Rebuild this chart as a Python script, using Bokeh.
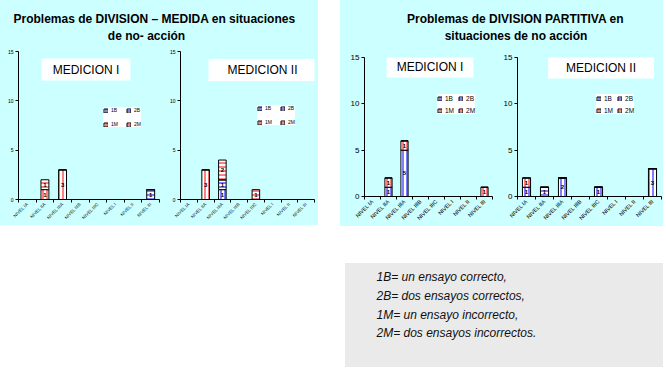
import math
from bokeh.plotting import figure
from bokeh.layouts import row, column
from bokeh.models import (ColumnDataSource, Label, Legend, LegendItem,
                          FixedTicker, Range1d, Spacer)
from bokeh.core.properties import value
from bokeh.embed import file_html
from bokeh.resources import INLINE

# ---------------- data ----------------
series = ["1B", "2B", "1M", "2M"]
categories = ["NIVEL IA", "NIVEL IIA", "NIVEL IIIA", "NIVEL IIIB",
              "NIVEL IIIC", "NIVEL I", "NIVEL II", "NIVEL III"]
y_ticks = [0, 5, 10, 15]

# Problemas de DIVISION - MEDIDA
medida_I_1B = [0, 0, 0, 0, 0, 0, 0, 0]
medida_I_2B = [0, 0, 0, 0, 0, 0, 0, 1]
medida_I_1M = [0, 1, 3, 0, 0, 0, 0, 0]
medida_I_2M = [0, 1, 0, 0, 0, 0, 0, 0]

medida_II_1B = [0, 0, 1, 0, 0, 0, 0, 0]
medida_II_2B = [0, 0, 1, 0, 0, 0, 0, 0]
medida_II_1M = [0, 3, 0, 0, 0, 0, 0, 0]
medida_II_2M = [0, 0, 2, 0, 1, 0, 0, 0]

# Problemas de DIVISION PARTITIVA
partitiva_I_1B = [0, 1, 5, 0, 0, 0, 0, 0]
partitiva_I_2B = [0, 0, 0, 0, 0, 0, 0, 0]
partitiva_I_1M = [0, 1, 1, 0, 0, 0, 0, 1]
partitiva_I_2M = [0, 0, 0, 0, 0, 0, 0, 0]

partitiva_II_1B = [1, 0, 2, 0, 1, 0, 0, 3]
partitiva_II_2B = [0, 1, 0, 0, 0, 0, 0, 0]
partitiva_II_1M = [1, 0, 0, 0, 0, 0, 0, 0]
partitiva_II_2M = [0, 0, 0, 0, 0, 0, 0, 0]

title_medida = ["Problemas de DIVISION \u2013 MEDIDA en situaciones", "de no- acci\u00f3n"]
title_partitiva = ["Problemas de DIVISION PARTITIVA en", "situaciones de no acci\u00f3n"]
notes = ["1B= un ensayo correcto,", "2B= dos ensayos correctos,",
         "1M= un ensayo incorrecto,", "2M= dos ensayos incorrectos."]

# ---------------- style ----------------
CYAN = "#CCFFFF"
GRAY = "#EAEAEA"
FONT = "Liberation Sans"
hatch_patterns = ["vertical_line", "horizontal_line", "vertical_line", "horizontal_line"]
hatch_colors = ["#0000FF", "#0000FF", "#FF0000", "#FF0000"]


def chart(data, width, height, bl, br, bt, bb, small, box_text, box_xy, box_padx, legend_xy):
    n = len(categories)
    xs = [i + 0.5 for i in range(n)]
    src = {"x": xs}
    for s in series:
        src[s] = data[s]
    source = ColumnDataSource(src)
    p = figure(width=width, height=height, x_range=Range1d(0, n), y_range=Range1d(0, 15),
               output_backend="svg", toolbar_location=None,
               min_border_left=bl, min_border_right=br,
               min_border_top=bt, min_border_bottom=bb,
               styles={"background-color": CYAN})
    p.background_fill_color = CYAN
    p.border_fill_color = CYAN
    p.outline_line_color = None
    p.xgrid.visible = False
    p.ygrid.visible = False

    rs = p.vbar_stack(series, x="x", width=0.45, source=source,
                      fill_color="white", line_color="black", line_width=1,
                      hatch_pattern=hatch_patterns, hatch_color=hatch_colors,
                      hatch_scale=4, hatch_weight=1)

    # segment value labels
    lx, ly, lt = [], [], []
    cum = [0] * n
    for s in series:
        for i, v in enumerate(data[s]):
            if v > 0:
                lx.append(xs[i])
                ly.append(cum[i] + v / 2)
                lt.append(str(v))
            cum[i] += v
    p.text(x=lx, y=ly, text=lt, text_font=value(FONT), text_font_size="6px",
           text_font_style="bold", text_align="center", text_baseline="middle",
           text_color="black")

    xa = p.xaxis[0]
    xa.ticker = FixedTicker(ticks=xs, minor_ticks=list(range(n + 1)))
    xa.major_label_overrides = {x: c for x, c in zip(xs, categories)}
    xa.major_tick_out = 0
    xa.major_tick_in = 0
    xa.minor_tick_out = 3
    xa.minor_tick_in = 0
    xa.minor_tick_line_color = "black"
    xa.axis_line_color = "black"
    xa.major_label_orientation = math.pi / 4
    xa.major_label_text_font = FONT
    xa.major_label_text_font_size = "4.5px" if small else "5.5px"
    xa.major_label_text_color = "black"
    xa.major_label_standoff = 1

    ya = p.yaxis[0]
    ya.ticker = FixedTicker(ticks=y_ticks, minor_ticks=[])
    ya.major_tick_out = 3
    ya.major_tick_in = 0
    ya.minor_tick_out = 0
    ya.minor_tick_in = 0
    ya.axis_line_color = "black"
    ya.major_label_text_font = FONT
    ya.major_label_text_font_size = "5px" if small else "8px"
    ya.major_label_text_color = "black"
    ya.major_label_standoff = 2

    items = [LegendItem(label=s, renderers=[r]) for s, r in zip(series, rs)]
    leg = Legend(items=items, location=legend_xy, orientation="horizontal", ncols=2,
                 background_fill_color="white", background_fill_alpha=1.0,
                 border_line_color=None, padding=3, spacing=8 if small else 4, margin=0,
                 glyph_width=5, glyph_height=5,
                 label_height=6 if small else 8, label_width=6, label_standoff=3,
                 label_text_font=FONT, label_text_font_size="5px" if small else "6.5px",
                 label_text_color="black")
    p.add_layout(leg)

    p.add_layout(Label(x=box_xy[0], y=box_xy[1], x_units="screen", y_units="screen",
                       text=box_text, text_align="center", text_baseline="middle",
                       text_font=FONT, text_font_size="12px", text_color="black",
                       background_fill_color="white", padding=(box_padx, 4)))
    return p


def title_fig(width, lines, centers, baselines):
    p = figure(width=width, height=48, x_range=Range1d(0, 1), y_range=Range1d(0, 1),
               x_axis_type=None, y_axis_type=None, output_backend="svg",
               toolbar_location=None, min_border=0,
               styles={"background-color": CYAN})
    p.background_fill_color = CYAN
    p.border_fill_color = CYAN
    p.outline_line_color = None
    p.grid.visible = False
    for line, cx, by in zip(lines, centers, baselines):
        p.add_layout(Label(x=cx, y=by, x_units="screen", y_units="screen", text=line,
                           text_align="center", text_baseline="alphabetic",
                           text_font=FONT, text_font_style="bold",
                           text_font_size="12px", text_color="black"))
    return p


def data_of(b1, b2, m1, m2):
    return {"1B": b1, "2B": b2, "1M": m1, "2M": m2}


mI = chart(data_of(medida_I_1B, medida_I_2B, medida_I_1M, medida_I_2M),
           166, 177, 18, 7, 3, 26, True, "MEDICION I", (67.5, 130), 11, (85, 72))
mII = chart(data_of(medida_II_1B, medida_II_2B, medida_II_1M, medida_II_2M),
            152, 177, 8, 4, 3, 26, True, "MEDICION II", (82, 129.5), 19, (77, 74))
pI = chart(data_of(partitiva_I_1B, partitiva_I_2B, partitiva_I_1M, partitiva_I_2M),
           154, 178, 24, 2, 9, 27, False, "MEDICION I", (65.5, 130), 10, (73, 82))
pII = chart(data_of(partitiva_II_1B, partitiva_II_2B, partitiva_II_1M, partitiva_II_2M),
            169, 178, 23, 2, 9, 27, False, "MEDICION II", (83.5, 129), 18, (79, 82))

tl = title_fig(318, title_medida, [154, 146], [30, 13])
tr = title_fig(323, title_partitiva, [175, 175.5], [30, 13])

gray = figure(width=318, height=104, x_range=Range1d(0, 1), y_range=Range1d(0, 1),
              x_axis_type=None, y_axis_type=None, output_backend="svg",
              toolbar_location=None, min_border=0,
              styles={"background-color": GRAY})
gray.background_fill_color = GRAY
gray.border_fill_color = GRAY
gray.outline_line_color = None
gray.grid.visible = False
for line, yy in zip(notes, [91, 72, 53, 35]):
    gray.add_layout(Label(x=31, y=yy, x_units="screen", y_units="screen", text=line,
                          text_align="left", text_baseline="middle", text_font=FONT,
                          text_font_style="italic", text_font_size="12px",
                          text_color="#111111"))

cyan_bg = {"background-color": CYAN}
left_panel = column(tl, row(mI, mII, styles=cyan_bg), styles=cyan_bg)
right_panel = column(tr, row(pI, pII, styles=cyan_bg), styles=cyan_bg)
top = row(left_panel, Spacer(width=22, height=226), right_panel)
bottom = row(Spacer(width=345, height=104), gray)
root = column(top, Spacer(width=10, height=37), bottom)

open("out.html", "w").write(file_html(root, INLINE, title="chart"))
